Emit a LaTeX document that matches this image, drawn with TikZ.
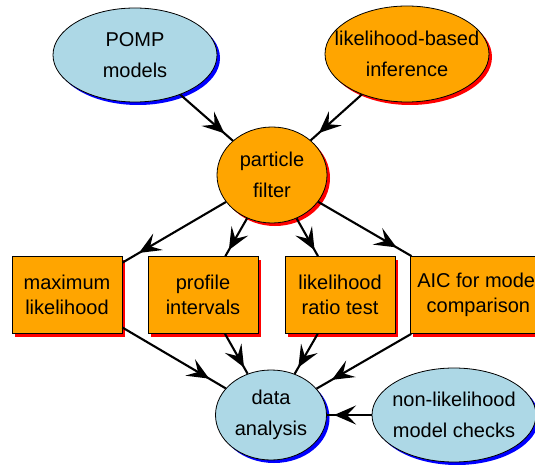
\documentclass[tikz,border=0pt]{standalone}
\usepackage{fontspec}
\setmainfont{Liberation Sans}
\usetikzlibrary{shapes.geometric,shadows,arrows.meta,decorations.markings}
\definecolor{lb}{RGB}{173,216,230}
\definecolor{og}{RGB}{255,165,0}
\tikzset{
  base/.style={draw=black, line width=0.8pt, align=center, inner sep=0pt},
  etext/.style={font=\fontsize{20}{31}\selectfont, align=center, inner sep=0pt},
  eb/.style={base, ellipse, fill=lb,
    drop shadow={shadow xshift=3pt, shadow yshift=-3pt, fill=blue, opacity=1}},
  eo/.style={base, ellipse, fill=og,
    drop shadow={shadow xshift=3pt, shadow yshift=-3pt, fill=red, opacity=1}},
  bx/.style={base, rectangle, fill=og, minimum width=110pt, minimum height=77pt,
    font=\fontsize{20}{25}\selectfont,
    drop shadow={shadow xshift=3pt, shadow yshift=-3pt, fill=red, opacity=1}},
  edge/.style={line width=2.1pt, postaction={decorate},
    decoration={markings, mark=at position 0.84 with
      {\arrow{Stealth[length=22pt,width=19pt,inset=9pt]}}}},
}
\begin{document}
\begin{tikzpicture}[x=1pt,y=-1pt]
\useasboundingbox (0,0) rectangle (535,465);
\node[eb, minimum width=164pt, minimum height=94pt,
  label={[etext]center:POMP\\models}] (pomp) at (135,55) {};
\node[eo, minimum width=164pt, minimum height=96pt,
  label={[etext]center:likelihood-based\\inference}] (lbi) at (407,54) {};
\node[eo, minimum width=110pt, minimum height=96pt,
  label={[etext]center:particle\\filter}] (pf) at (272,175) {};
\node[bx] (ml) at (67,295) {maximum\\likelihood};
\node[bx] (pi) at (203,295) {profile\\intervals};
\node[bx] (lrt) at (340,295) {likelihood\\ratio test};
\node[bx, minimum width=136pt, anchor=west] (aic) at (410,295) {AIC for model\\comparison};
\node[eb, minimum width=111pt, minimum height=90pt,
  label={[etext]center:data\\analysis}] (da) at (271,415) {};
\node[eb, minimum width=164pt, minimum height=94pt,
  label={[etext]center:non-likelihood\\model checks}] (nl) at (454,415) {};
\draw[edge] (pomp) -- (pf);
\draw[edge] (lbi) -- (pf);
\draw[edge] (pf) -- (ml);
\draw[edge] (pf) -- (pi);
\draw[edge] (pf) -- (lrt);
\draw[edge] (pf) -- (aic);
\draw[edge] (ml) -- (da);
\draw[edge] (pi) -- (da);
\draw[edge] (lrt) -- (da);
\draw[edge] (aic) -- (da);
\draw[edge] (nl) -- (da);
\end{tikzpicture}
\end{document}
